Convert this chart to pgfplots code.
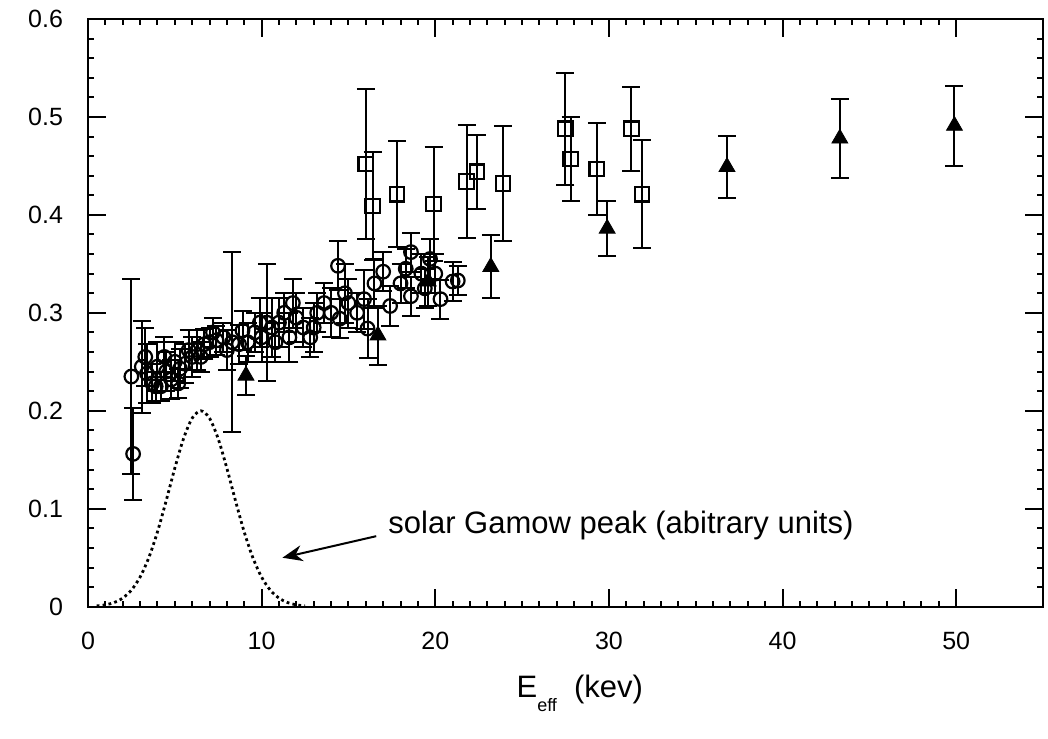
\documentclass[border=0pt]{standalone}
\usepackage{fontspec}
\setmainfont{Liberation Sans}
\usepackage{pgfplots}
\usepackage{pgfplotstable}
\pgfplotsset{compat=1.18}
\usetikzlibrary{arrows.meta}

\pgfplotstableread{
x y e
2.5 0.235 0.100
2.6 0.156 0.047
3.1 0.245 0.047
3.3 0.255 0.030
3.4 0.238 0.030
3.7 0.228 0.020
3.9 0.225 0.015
4.0 0.245 0.025
4.2 0.225 0.015
4.4 0.255 0.020
4.5 0.240 0.020
4.8 0.232 0.020
5.0 0.250 0.020
5.2 0.228 0.015
5.3 0.243 0.020
5.6 0.248 0.020
5.8 0.262 0.020
6.0 0.255 0.020
6.3 0.262 0.020
6.5 0.255 0.015
6.7 0.268 0.015
7.0 0.270 0.015
7.2 0.280 0.015
7.4 0.272 0.015
7.8 0.275 0.015
8.0 0.262 0.020
8.3 0.270 0.092
8.7 0.268 0.020
8.9 0.282 0.020
9.2 0.270 0.020
9.6 0.280 0.020
9.9 0.290 0.025
10.0 0.275 0.025
10.3 0.290 0.060
10.6 0.285 0.030
10.8 0.270 0.020
11.0 0.290 0.025
11.3 0.300 0.020
11.6 0.275 0.025
11.8 0.310 0.025
12.0 0.295 0.025
12.4 0.285 0.020
12.8 0.275 0.020
13.0 0.285 0.025
13.2 0.300 0.020
13.6 0.310 0.020
14.0 0.300 0.025
14.4 0.348 0.025
14.5 0.294 0.020
14.8 0.320 0.030
15.0 0.310 0.025
15.5 0.300 0.020
15.9 0.314 0.030
16.1 0.284 0.030
16.5 0.330 0.025
17.0 0.342 0.020
17.4 0.307 0.020
18.0 0.330 0.020
18.3 0.345 0.020
18.6 0.362 0.020
18.6 0.317 0.020
19.2 0.340 0.020
19.4 0.325 0.020
19.7 0.355 0.020
20.0 0.340 0.020
20.3 0.314 0.020
21.0 0.332 0.020
21.3 0.333 0.015
}\circles

\pgfplotstableread{
x y e
16.0 0.452 0.077
16.4 0.409 0.055
17.8 0.421 0.054
19.9 0.411 0.058
21.8 0.434 0.058
22.4 0.444 0.038
23.9 0.432 0.059
27.5 0.488 0.057
27.8 0.457 0.043
29.3 0.447 0.047
31.3 0.488 0.043
31.9 0.421 0.055
}\squares

\pgfplotstableread{
x y e
9.1 0.236 0.020
16.7 0.277 0.030
19.6 0.332 0.025
23.2 0.347 0.032
29.9 0.386 0.028
36.8 0.449 0.032
43.3 0.478 0.040
49.9 0.491 0.041
}\triangles

\pgfplotstableread{
x y
0.5 0.0008
1.0 0.0019
1.5 0.0042
2.0 0.0088
2.5 0.0169
3.0 0.0302
3.5 0.0499
4.0 0.0762
4.5 0.1079
5.0 0.1413
5.5 0.1714
6.0 0.1924
6.5 0.2000
7.0 0.1924
7.5 0.1714
8.0 0.1413
8.5 0.1079
9.0 0.0762
9.5 0.0499
10.0 0.0302
10.5 0.0169
11.0 0.0088
11.5 0.0042
12.0 0.0019
12.5 0.0008
}\gamow

\begin{document}
\begin{tikzpicture}
\begin{axis}[
  scale only axis,
  width=477.75pt, height=294pt,
  xmin=0, xmax=55, ymin=0, ymax=0.6,
  xtick={0,10,20,30,40,50},
  ytick={0,0.1,0.2,0.3,0.4,0.5,0.6},
  yticklabels={0,0.1,0.2,0.3,0.4,0.5,0.6},
  minor x tick num=9, minor y tick num=4,
  tick align=inside,
  major tick length=9pt, minor tick length=3pt,
  tick style={black, line width=1pt},
  axis line style={line width=1.2pt},
  /pgf/number format/assume math mode=true,
  ticklabel style={font=\fontsize{12.5}{14}\selectfont},
  yticklabel style={xshift=-9pt},
  xticklabel style={yshift=-9pt},
  xlabel={E\raisebox{-7pt}{\fontsize{9}{9}\selectfont eff}\ \ (kev)},
  xlabel style={font=\fontsize{15.5}{18}\selectfont, at={(axis description cs:0.515,0)}, anchor=base, yshift=-45.5pt},
  clip=false,
]
\addplot[black, line width=1.4pt, dash pattern=on 1.4pt off 1.6pt, smooth] table[x=x,y=y]{\gamow};

\addplot[black, only marks, mark=o, mark size=3.4pt, mark options={line width=1.1pt},
  error bars/.cd, y dir=both, y explicit,
  error bar style={line width=1pt},
  error mark options={rotate=90, mark size=4.5pt, line width=1pt}]
  table[x=x,y=y,y error=e]{\circles};

\addplot[black, only marks, mark=square, mark size=3.6pt, mark options={line width=1.1pt},
  error bars/.cd, y dir=both, y explicit,
  error bar style={line width=1pt},
  error mark options={rotate=90, mark size=4.5pt, line width=1pt}]
  table[x=x,y=y,y error=e]{\squares};

\addplot[black, only marks, mark=triangle*, mark size=4.6pt,
  error bars/.cd, y dir=both, y explicit,
  error bar style={line width=1pt},
  error mark options={rotate=90, mark size=4.5pt, line width=1pt}]
  table[x=x,y=y,y error=e]{\triangles};

\node[font=\fontsize{15.5}{18}\selectfont, anchor=west] at (axis cs:16.9,0.083) {solar Gamow peak (abitrary units)};
\draw[line width=1pt, -{Stealth[length=10pt,width=8pt]}] (axis cs:16.6,0.072) -- (axis cs:11.2,0.050);
\end{axis}
\path ([shift={(-44pt,-66pt)}]current axis.south west) rectangle ([shift={(2.5pt,9.5pt)}]current axis.north east);
\end{tikzpicture}
\end{document}
